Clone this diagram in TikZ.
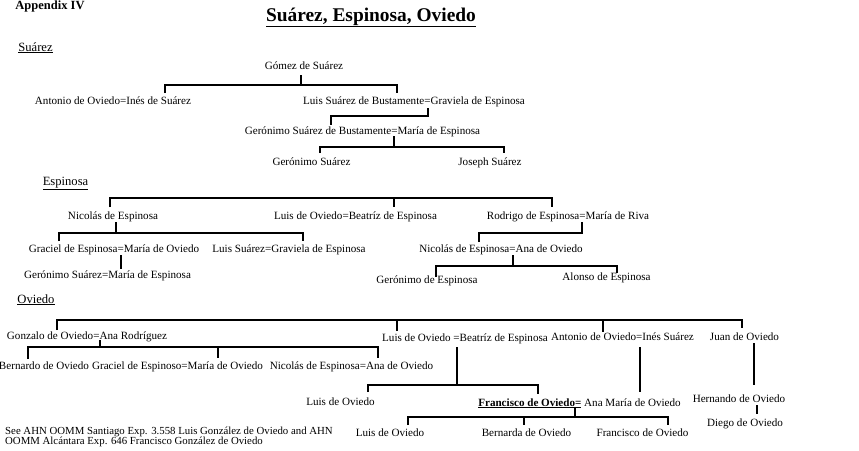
\documentclass[tikz,border=0pt]{standalone}
\usepackage{fontspec}
\setmainfont{Liberation Serif}
\begin{document}
\begin{tikzpicture}[x=1pt,y=-1pt,
  every node/.style={inner sep=0pt, font=\fontsize{11.1}{12}\selectfont, text height=8pt, text depth=2pt},
  person/.style={},
  heading/.style={font=\fontsize{12.6}{14}\selectfont},
  ln/.style={line width=1.1pt}]
\useasboundingbox[fill=white] (0,0) rectangle (859,450);
% headings
\node[font=\bfseries\fontsize{12.5}{14}\selectfont] (appx) at (50,6) {Appendix IV};
\node[font=\bfseries\fontsize{19.4}{22}\selectfont, text height=14pt, text depth=4pt] (title) at (371,16) {\underline{Suárez, Espinosa, Oviedo}};
\node[heading] (hsua) at (35.5,48) {\underline{Suárez}};
\node[heading] (hesp) at (65.5,182) {\underline{Espinosa}};
\node[heading] (hovi) at (36,300) {\underline{Oviedo}};
% Suarez
\node[person] (gomez) at (304,66) {Gómez de Suárez};
\node[person] (antonio) at (113,101) {Antonio de Oviedo=Inés de Suárez};
\node[person] (luisSB) at (414,101) {Luis Suárez de Bustamente=Graviela de Espinosa};
\node[person] (geroSB) at (362.5,131) {Gerónimo Suárez de Bustamente=María de Espinosa};
\node[person] (geroS) at (311.5,162) {Gerónimo Suárez};
\node[person] (joseph) at (490,162) {Joseph Suárez};
% Espinosa
\node[person] (nicolas) at (113,216) {Nicolás de Espinosa};
\node[person] (luisOB) at (355.5,216) {Luis de Oviedo=Beatríz de Espinosa};
\node[person] (rodrigo) at (568,216) {Rodrigo de Espinosa=María de Riva};
\node[person] (graciel) at (114,249) {Graciel de Espinosa=María de Oviedo};
\node[person] (luisSG) at (289,249) {Luis Suárez=Graviela de Espinosa};
\node[person] (geroSM) at (107.5,275) {Gerónimo Suárez=María de Espinosa};
\node[person] (nicolasA) at (501,249) {Nicolás de Espinosa=Ana de Oviedo};
\node[person] (geroE) at (427,280) {Gerónimo de Espinosa};
\node[person] (alonso) at (606.5,277) {Alonso de Espinosa};
% Oviedo
\node[person] (gonzalo) at (87,336) {Gonzalo de Oviedo=Ana Rodríguez};
\node[person] (luisOB2) at (465,338) {Luis de Oviedo =Beatríz de Espinosa};
\node[person] (antonioI) at (622.5,337) {Antonio de Oviedo=Inés Suárez};
\node[person] (juan) at (744.5,337) {Juan de Oviedo};
\node[person] (bernardo) at (44,366) {Bernardo de Oviedo};
\node[person] (gracielM) at (177.5,366) {Graciel de Espinoso=María de Oviedo};
\node[person] (nicolasA2) at (351.5,366) {Nicolás de Espinosa=Ana de Oviedo};
\node[person] (luisO1) at (340.5,402) {Luis de Oviedo};
\node[person] (francisco) at (579.5,403) {\textbf{\underline{Francisco de Oviedo=}} Ana María de Oviedo};
\node[person] (hernando) at (739,399) {Hernando de Oviedo};
\node[person] (diego) at (745,423) {Diego de Oviedo};
\node[person] (luisO2) at (390,433) {Luis de Oviedo};
\node[person] (bernarda) at (526.5,433) {Bernarda de Oviedo};
\node[person] (franciscoO) at (642.5,433) {Francisco de Oviedo};
\node[anchor=west, align=left, font=\fontsize{10.8}{10}\selectfont, text height=, text depth=] (note) at (5,436.5) {See AHN OOMM Santiago Exp. 3.558 Luis González de Oviedo and AHN\\OOMM Alcántara Exp. 646 Francisco González de Oviedo};
% coordinates and connectors
\coordinate (gz1) at (301,75); \coordinate (gz2) at (301,85);
\coordinate (a1) at (165,93); \coordinate (a2) at (165,85); \coordinate (a3) at (397,85); \coordinate (a4) at (397,93);
\draw[ln] (gz1) -- (gz2);
\draw[ln] (a1) -- (a2) -- (a3) -- (a4);
\coordinate (b1) at (428,108); \coordinate (b2) at (428,116); \coordinate (b3) at (331,116); \coordinate (b4) at (331,125);
\draw[ln] (b1) -- (b2) -- (b3) -- (b4);
\coordinate (c1) at (394,136); \coordinate (c2) at (394,147);
\coordinate (c3) at (320,153); \coordinate (c4) at (320,147); \coordinate (c5) at (504,147); \coordinate (c6) at (504,153);
\draw[ln] (c1) -- (c2); \draw[ln] (c3) -- (c4) -- (c5) -- (c6);
% Espinosa
\coordinate (d1) at (110,207); \coordinate (d2) at (110,198); \coordinate (d3) at (552,198); \coordinate (d4) at (552,207);
\coordinate (d5) at (394,198); \coordinate (d6) at (394,207);
\draw[ln] (d1) -- (d2) -- (d3) -- (d4); \draw[ln] (d5) -- (d6);
\coordinate (e1) at (116,222); \coordinate (e2) at (116,233);
\coordinate (e3) at (59,241); \coordinate (e4) at (59,233); \coordinate (e5) at (303,233); \coordinate (e6) at (303,241);
\draw[ln] (e1) -- (e2); \draw[ln] (e3) -- (e4) -- (e5) -- (e6);
\coordinate (f1) at (121,255); \coordinate (f2) at (121,269);
\draw[ln] (f1) -- (f2);
\coordinate (g1) at (582,222); \coordinate (g2) at (582,233); \coordinate (g3) at (479,233); \coordinate (g4) at (479,242);
\draw[ln] (g1) -- (g2) -- (g3) -- (g4);
\coordinate (h1) at (513,255); \coordinate (h2) at (513,266);
\coordinate (h3) at (436,277); \coordinate (h4) at (436,266); \coordinate (h5) at (617,266); \coordinate (h6) at (617,273);
\draw[ln] (h1) -- (h2); \draw[ln] (h3) -- (h4) -- (h5) -- (h6);
% Oviedo
\coordinate (i1) at (57,330); \coordinate (i2) at (57,320); \coordinate (i3) at (742,320); \coordinate (i4) at (742,328);
\coordinate (i5) at (397,320); \coordinate (i6) at (397,331); \coordinate (i7) at (603,320); \coordinate (i8) at (603,332);
\draw[ln] (i1) -- (i2) -- (i3) -- (i4); \draw[ln] (i5) -- (i6); \draw[ln] (i7) -- (i8);
\coordinate (j1) at (100,340); \coordinate (j2) at (100,347);
\coordinate (j3) at (28,359); \coordinate (j4) at (28,347); \coordinate (j5) at (378,347); \coordinate (j6) at (378,358);
\coordinate (j7) at (218,347); \coordinate (j8) at (218,358);
\draw[ln] (j1) -- (j2); \draw[ln] (j3) -- (j4) -- (j5) -- (j6); \draw[ln] (j7) -- (j8);
\coordinate (k1) at (457,347); \coordinate (k2) at (457,385);
\coordinate (k3) at (368,392); \coordinate (k4) at (368,385); \coordinate (k5) at (538,385); \coordinate (k6) at (538,394);
\draw[ln] (k1) -- (k2); \draw[ln] (k3) -- (k4) -- (k5) -- (k6);
\coordinate (l1) at (640,347); \coordinate (l2) at (640,392);
\draw[ln] (l1) -- (l2);
\coordinate (m1) at (754,343); \coordinate (m2) at (754,385);
\draw[ln] (m1) -- (m2);
\coordinate (n1) at (757,405); \coordinate (n2) at (757,414);
\draw[ln] (n1) -- (n2);
\coordinate (o1) at (575,408); \coordinate (o2) at (575,417);
\coordinate (o3) at (408,425); \coordinate (o4) at (408,417); \coordinate (o5) at (668,417); \coordinate (o6) at (668,425);
\coordinate (o7) at (524,417); \coordinate (o8) at (524,425);
\draw[ln] (o1) -- (o2); \draw[ln] (o3) -- (o4) -- (o5) -- (o6); \draw[ln] (o7) -- (o8);
\end{tikzpicture}
\end{document}
